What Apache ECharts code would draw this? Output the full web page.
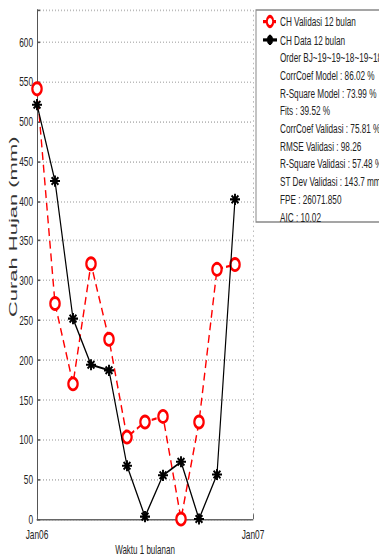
<!DOCTYPE html>
<html>
<head>
<meta charset="utf-8">
<script src="https://cdn.jsdelivr.net/npm/echarts@6/dist/echarts.min.js"></script>
<style>
html,body{margin:0;padding:0;background:#fff;overflow:hidden;width:379px;height:559px;}
#chart{width:379px;height:350px;transform:scaleY(1.597);transform-origin:0 0;}
</style>
</head>
<body>
<div id="chart"></div>
<script>
// ---- data ----
var categories = ['Jan06','Feb06','Mar06','Apr06','May06','Jun06','Jul06','Aug06','Sep06','Oct06','Nov06','Dec06','Jan07'];
var validasi = [541, 271, 170, 321, 226, 103, 122, 129, 0, 122, 314, 320];
var dataAktual = [521, 425, 252, 194, 187, 67, 3, 55, 72, 0, 56, 402];
var yTicks = [0, 50, 100, 150, 200, 250, 300, 350, 400, 450, 500, 550, 600];
var legendNames = ['CH Validasi 12 bulan', 'CH Data 12 bulan'];
var statLines = [
  'Order BJ~19~19~18~19~18',
  'CorrCoef Model : 86.02 %',
  'R-Square Model : 73.99 %',
  'Fits : 39.52 %',
  'CorrCoef Validasi : 75.81 %',
  'RMSE Validasi : 98.26',
  'R-Square Validasi : 57.48 %',
  'ST Dev Validasi : 143.7 mm',
  'FPE : 26071.850',
  'AIC : 10.02'
];
var yName = 'Curah Hujan (mm)';
var xName = 'Waktu 1 bulanan';

var FONT = "'Liberation Sans', Arial, sans-serif";
var TXT = '#222';
var chart = echarts.init(document.getElementById('chart'), null, {renderer: 'svg'});

var graphics = [
  {type: 'rect', shape: {x: 256, y: 6.3, width: 140, height: 132.7},
   style: {fill: '#fff', stroke: '#888', lineWidth: 1}, z: 10},
  {type: 'group', x: 13, y: 142, rotation: Math.PI / 2,
   children: [{type: 'text', x: 0, y: 0, scaleX: 1.31, scaleY: 1,
     style: {text: yName, fill: '#333', fontSize: 10.5, fontFamily: FONT, align: 'center', verticalAlign: 'middle'}}]},
  {type: 'text', x: 145, y: 344.2,
   style: {text: xName, fill: TXT, fontSize: 8, lineHeight: 8, fontFamily: FONT, align: 'center', verticalAlign: 'middle'}}
];
statLines.forEach(function (t, i) {
  graphics.push({type: 'text', x: 280, y: 35.9 + i * 11.1, z: 11,
    style: {text: t, fill: TXT, fontSize: 8.2, fontFamily: FONT, align: 'left', verticalAlign: 'middle'}});
});

var edgeOnly = function (i) { return i === 0 || i === categories.length - 1; };
var asterisk = 'path://M5,0L5,10M0,5L10,5M1.6,1.6L8.4,8.4M1.6,8.4L8.4,1.6';

chart.setOption({
  animation: false,
  backgroundColor: '#fff',
  textStyle: {fontFamily: FONT},
  grid: {left: 37, right: 126, top: 6.3, bottom: 25, containLabel: false, outerBoundsMode: 'none'},
  legend: {
    orient: 'vertical', left: 262, top: 9.3, padding: 0,
    itemWidth: 14, itemHeight: 8, itemGap: 3.1, z: 12,
    textStyle: {fontSize: 8.2, color: TXT, fontFamily: FONT, padding: [0, 0, 0, -2]},
    data: legendNames
  },
  xAxis: {
    type: 'category', data: categories, boundaryGap: false,
    axisLine: {lineStyle: {color: '#666', width: 1}},
    axisTick: {show: true, inside: true, length: 3, interval: edgeOnly, lineStyle: {color: '#666'}},
    axisLabel: {interval: edgeOnly, fontSize: 8.3, color: TXT, margin: 5.5, fontFamily: FONT},
    splitLine: {show: true, interval: edgeOnly, lineStyle: {color: '#bbb', type: [1, 2], width: 1}}
  },
  yAxis: {
    type: 'value', min: 0, max: 640, interval: 50,
    axisLine: {show: true, lineStyle: {color: '#555', width: 1}},
    axisTick: {show: true, inside: true, length: 3, lineStyle: {color: '#555'}},
    axisLabel: {fontSize: 8.3, color: TXT, margin: 4, fontFamily: FONT,
      formatter: function (v) { return yTicks.indexOf(v) >= 0 ? String(v) : ''; }},
    splitLine: {show: true, lineStyle: {color: '#bbb', type: [1, 2], width: 1}}
  },
  graphic: graphics,
  series: [
    {
      name: legendNames[0], type: 'line', data: validasi,
      symbol: 'emptyCircle', symbolSize: [9.3, 7.5], showAllSymbol: true,
      lineStyle: {color: '#ff0000', width: 1.4, type: [5, 3]},
      itemStyle: {color: '#ff0000', borderColor: '#ff0000', borderWidth: 1.4},
      z: 3
    },
    {
      name: legendNames[1], type: 'line', data: dataAktual,
      symbol: asterisk, symbolSize: [10, 7], showAllSymbol: true,
      lineStyle: {color: '#000', width: 1.2, type: 'solid'},
      itemStyle: {color: '#000', borderColor: '#000', borderWidth: 1.6},
      z: 4
    }
  ]
});
</script>
</body>
</html>
